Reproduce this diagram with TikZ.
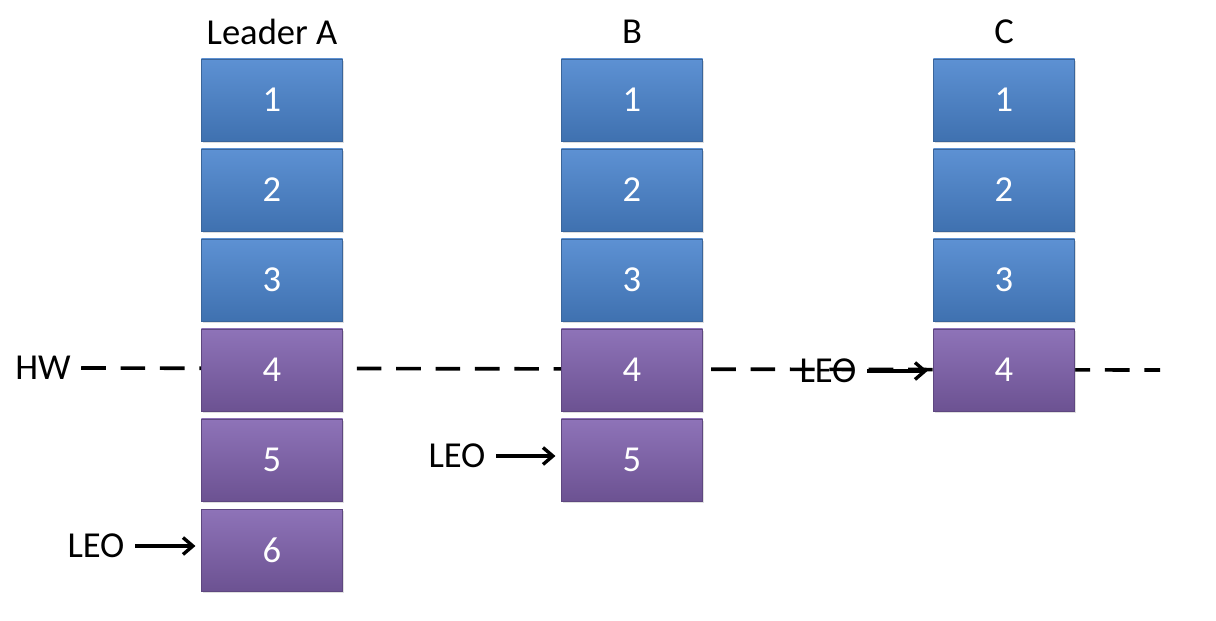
\documentclass[tikz,border=0pt]{standalone}
\usepackage{fontspec}
\setmainfont{Carlito}
\usetikzlibrary{arrows.meta, shadows}
\definecolor{mBlueTop}{HTML}{5D91D3}
\definecolor{mBlueBot}{HTML}{3F71B0}
\definecolor{mBlueLine}{HTML}{3A659B}
\definecolor{mPurpleTop}{HTML}{8E73B8}
\definecolor{mPurpleBot}{HTML}{6C5292}
\definecolor{mPurpleLine}{HTML}{5E4780}

\begin{document}
\begin{tikzpicture}[x=0.025cm, y=-0.025cm,
    txt/.style={font=\fontsize{26}{31}\selectfont},
    entry/.style={txt, text=white, minimum width=3.525cm, minimum height=2.05cm,
      inner sep=0pt, line width=0.6pt, drop shadow={shadow xshift=1pt, shadow yshift=-1.5pt, opacity=0.25}},
    committed/.style={entry, draw=mBlueLine, top color=mBlueTop, bottom color=mBlueBot},
    pending/.style={entry, draw=mPurpleLine, top color=mPurpleTop, bottom color=mPurpleBot},
    pointer/.style={-{Straight Barb[length=7pt, width=12pt]}, line width=2.4pt,
      shorten <=4pt, shorten >=4pt}]
    \useasboundingbox (0,0) rectangle (1216,620);
    % high watermark line, behind the logs
    \node[txt] (hw) at (43,368) {HW};
    \coordinate (hwend) at (1160,370);
    \draw[line width=2.6pt, dash pattern=on 17.5pt off 10.5pt, shorten <=4pt] (hw.east) -- (hwend);
    % the three logs
    \foreach \col/\x/\n/\head in {a/272/6/Leader A, b/632/5/B, c/1004/4/C} {
      \node[txt] (\col head) at (\x,32) {\head};
      \foreach \i in {1,2,3}
        \node[committed] (\col\i) at (\x,{100+(\i-1)*90}) {\i};
      \foreach \i in {4,...,\n}
        \node[pending] (\col\i) at (\x,{100+(\i-1)*90}) {\i};
    }
    % log end offsets
    \node[txt] (leoa) at (96,546) {LEO};
    \node[txt] (leob) at (457,456) {LEO};
    \node[txt] (leoc) at (828,371) {LEO};
    \draw[pointer] (leoa.east) -- (leoa.east -| a6.west);
    \draw[pointer] (leob.east) -- (leob.east -| b5.west);
    \draw[pointer] (leoc.east) -- (leoc.east -| c4.west);
  \end{tikzpicture}
\end{document}
